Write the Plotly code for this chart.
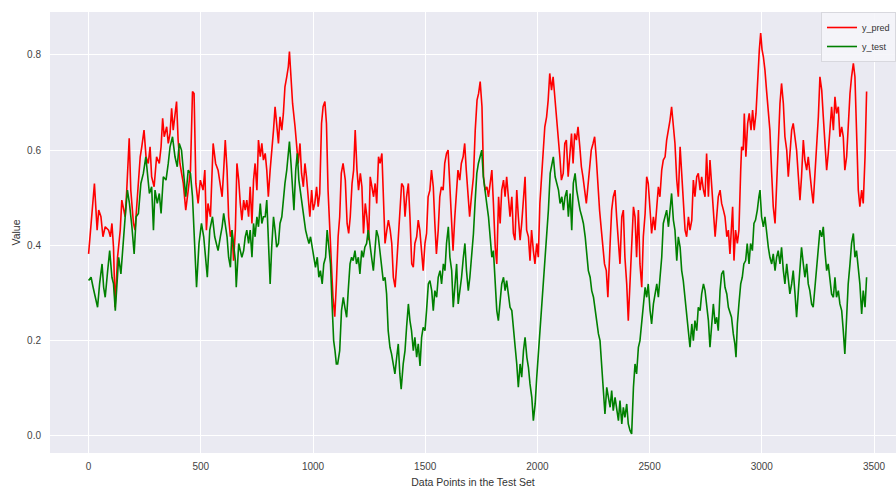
import plotly.graph_objects as go

# ---- data (index in test set, value) ----
pred_x = [0, 26, 38, 45, 55, 64, 74, 89, 97, 104, 111, 118, 129, 141, 148, 163, 170, 181, 188, 200,
          207, 218, 230, 237, 247, 256, 266, 274, 281, 292, 303, 315, 323, 330, 337, 348, 355, 363, 370, 377,
          385, 392, 399, 407, 422, 433, 444, 454, 463, 470, 478, 488, 498, 510, 518, 525, 532, 543, 555, 566,
          577, 595, 602, 609, 617, 624, 632, 639, 646, 654, 661, 669, 676, 683, 691, 698, 705, 713, 720, 728,
          735, 742, 750, 757, 765, 772, 779, 787, 794, 801, 809, 816, 824, 831, 838, 846, 853, 861, 868, 875,
          883, 890, 895, 902, 909, 920, 927, 934, 942, 949, 957, 964, 971, 979, 986, 994, 1001, 1008, 1016, 1023,
          1030, 1038, 1045, 1053, 1060, 1067, 1075, 1082, 1089, 1097, 1104, 1112, 1119, 1126, 1134,
          1144, 1152, 1159, 1166, 1174, 1181, 1188, 1196, 1203, 1211, 1218, 1225, 1233, 1240, 1248, 1255, 1262, 1270,
          1277, 1284, 1292, 1299, 1307, 1314, 1321, 1329, 1336, 1344, 1351, 1358, 1366, 1373, 1380, 1388, 1395, 1403,
          1410, 1417, 1425, 1432, 1440, 1447, 1454, 1462, 1469, 1476, 1484, 1491, 1499, 1506, 1513, 1521, 1528, 1536,
          1543, 1550, 1558, 1565, 1572, 1580, 1587, 1595, 1602, 1609, 1617, 1624, 1632, 1639, 1646, 1654, 1661, 1669,
          1676, 1683, 1691, 1698, 1706,
          1715, 1723, 1731, 1738, 1745, 1753, 1760, 1767, 1775, 1782, 1790, 1797, 1804, 1812, 1819, 1827, 1834, 1841,
          1849, 1856, 1863, 1871, 1878, 1886, 1893, 1900, 1908, 1915, 1923, 1930, 1937, 1945, 1952, 1960, 1967, 1974,
          1982, 1989, 1997, 2004, 2011, 2019, 2026, 2033, 2041, 2048, 2055, 2063, 2070, 2078, 2085, 2092, 2100, 2107,
          2115, 2122, 2129, 2137, 2144, 2152, 2159, 2166, 2174, 2181, 2189, 2196, 2203, 2211, 2218, 2225, 2233, 2240,
          2248, 2255, 2262, 2270, 2277, 2285, 2292, 2299, 2307, 2314,
          2324, 2331, 2338, 2346, 2353, 2361, 2368, 2376, 2383, 2390, 2398, 2405, 2413, 2420, 2428, 2435, 2442, 2450,
          2457, 2465, 2472, 2480, 2487, 2494, 2502, 2509, 2517, 2524, 2532, 2539, 2546, 2554, 2561, 2569, 2576, 2584,
          2591, 2598, 2606, 2613, 2621, 2628, 2636, 2643, 2650, 2658, 2665, 2673, 2680, 2688, 2695, 2702, 2710, 2717,
          2725, 2732, 2740, 2747, 2754, 2762, 2769, 2777, 2784, 2792, 2799, 2806, 2814, 2821, 2829, 2836, 2844, 2851,
          2858, 2865, 2870, 2876, 2883, 2891, 2898, 2906, 2910, 2917, 2922, 2929, 2937, 2944, 2952, 2959, 2966, 2974,
          2981, 2989, 2995, 3001, 3007, 3014, 3021, 3029, 3036, 3044, 3051, 3059, 3066, 3073, 3081, 3088, 3096, 3103,
          3111, 3118, 3125, 3133, 3140, 3148, 3155, 3163, 3170, 3177, 3185, 3192, 3200, 3207, 3214, 3222, 3229, 3237,
          3244, 3252, 3259, 3267, 3274, 3281, 3289, 3296, 3304, 3311, 3319, 3326, 3333, 3341, 3348, 3356, 3363, 3370,
          3378, 3385, 3393, 3400, 3408, 3415, 3422, 3430, 3437, 3445, 3452, 3460, 3467]
pred_y = [0.382, 0.530, 0.432, 0.474, 0.460, 0.418, 0.439, 0.432, 0.418, 0.446, 0.396, 0.270, 0.375, 0.432, 0.495, 0.460, 0.516, 0.625, 0.516, 0.446,
          0.432, 0.502, 0.586, 0.607, 0.642, 0.586, 0.572, 0.607, 0.544, 0.523, 0.586, 0.572, 0.607, 0.667, 0.628, 0.649, 0.614, 0.635, 0.688, 0.642,
          0.677, 0.702, 0.621, 0.572, 0.530, 0.474, 0.516, 0.558, 0.723, 0.719, 0.530, 0.488, 0.537, 0.516, 0.558, 0.432, 0.488, 0.460, 0.614, 0.572,
          0.558, 0.502, 0.558, 0.621, 0.558, 0.460, 0.418, 0.432, 0.368, 0.432, 0.572, 0.537, 0.488, 0.453, 0.495, 0.474, 0.495, 0.460, 0.523, 0.446,
          0.537, 0.572, 0.516, 0.621, 0.586, 0.614, 0.579, 0.593, 0.558, 0.502, 0.558, 0.593, 0.642, 0.691, 0.649, 0.614, 0.670, 0.642, 0.677, 0.733,
          0.754, 0.775, 0.807, 0.761, 0.698, 0.649, 0.600, 0.572, 0.614, 0.551, 0.523, 0.572, 0.544, 0.495, 0.460, 0.516, 0.474, 0.488, 0.523, 0.481,
          0.509, 0.656, 0.691, 0.702, 0.656, 0.516, 0.418, 0.361, 0.291, 0.250, 0.319, 0.418, 0.460, 0.551, 0.572,
          0.537, 0.446, 0.425, 0.460, 0.530, 0.558, 0.642, 0.558, 0.516, 0.551, 0.523, 0.425, 0.488, 0.460, 0.411, 0.544, 0.523, 0.502,
          0.530, 0.488, 0.586, 0.572, 0.593, 0.502, 0.404, 0.432, 0.453, 0.432, 0.404, 0.333, 0.312, 0.361, 0.418, 0.474, 0.530, 0.523,
          0.460, 0.502, 0.530, 0.460, 0.361, 0.354, 0.404, 0.418, 0.453, 0.432, 0.389, 0.347, 0.404, 0.425, 0.502, 0.516, 0.558, 0.523,
          0.446, 0.382, 0.432, 0.502, 0.523, 0.516, 0.572, 0.593, 0.600, 0.523, 0.432, 0.389, 0.460, 0.502, 0.558, 0.537, 0.572, 0.586,
          0.614, 0.558, 0.502, 0.460, 0.502,
          0.544, 0.642, 0.705, 0.719, 0.744, 0.691, 0.544, 0.516, 0.523, 0.502, 0.530, 0.558, 0.488, 0.396, 0.361, 0.502, 0.446, 0.516,
          0.537, 0.502, 0.544, 0.502, 0.460, 0.502, 0.425, 0.411, 0.516, 0.460, 0.411, 0.446, 0.502, 0.544, 0.432, 0.418, 0.368, 0.432,
          0.389, 0.361, 0.404, 0.375, 0.488, 0.544, 0.607, 0.649, 0.670, 0.705, 0.761, 0.726, 0.754, 0.712, 0.670, 0.628, 0.586, 0.537,
          0.551, 0.614, 0.621, 0.544, 0.586, 0.635, 0.572, 0.635, 0.621, 0.649, 0.607, 0.565, 0.544, 0.516, 0.488, 0.523, 0.558, 0.600,
          0.614, 0.628, 0.586, 0.516, 0.474, 0.432, 0.396, 0.361, 0.347, 0.291,
          0.404, 0.474, 0.502, 0.516, 0.460, 0.396, 0.361, 0.460, 0.474, 0.375, 0.319, 0.242, 0.319, 0.389, 0.481, 0.460, 0.375, 0.474,
          0.361, 0.312, 0.418, 0.467, 0.544, 0.530, 0.474, 0.425, 0.460, 0.432, 0.481, 0.523, 0.502, 0.558, 0.579, 0.586, 0.621, 0.642,
          0.663, 0.691, 0.656, 0.614, 0.537, 0.502, 0.607, 0.558, 0.502, 0.432, 0.418, 0.460, 0.432, 0.453, 0.537, 0.502, 0.544, 0.551,
          0.516, 0.544, 0.516, 0.502, 0.593, 0.502, 0.579, 0.516, 0.460, 0.418, 0.460, 0.502, 0.516, 0.488, 0.474, 0.460, 0.418, 0.432,
          0.382, 0.432, 0.481, 0.368, 0.432, 0.404, 0.432, 0.558, 0.607, 0.600, 0.677, 0.586, 0.656, 0.677, 0.642, 0.684, 0.642, 0.677,
          0.754, 0.811, 0.846, 0.811, 0.796, 0.768, 0.726, 0.684, 0.642, 0.551, 0.481, 0.446, 0.523, 0.614, 0.698, 0.740, 0.698, 0.628,
          0.600, 0.544, 0.593, 0.642, 0.656, 0.621, 0.600, 0.544, 0.495, 0.544, 0.621, 0.579, 0.558, 0.586, 0.544, 0.516, 0.488, 0.544,
          0.600, 0.670, 0.754, 0.726, 0.670, 0.621, 0.558, 0.593, 0.656, 0.691, 0.642, 0.712, 0.677, 0.691, 0.628, 0.649, 0.628, 0.558,
          0.586, 0.656, 0.719, 0.754, 0.782, 0.754, 0.649, 0.516, 0.481, 0.516, 0.488, 0.586, 0.723]

test_x = [0, 11, 20, 30, 40, 49, 60, 67, 74, 85, 94, 104, 111, 119, 126, 134, 144, 153, 163, 173,
          182, 193, 203, 212, 222, 233, 244, 255, 264, 271, 281, 289, 296, 306, 315, 323, 333, 345, 355, 363,
          374, 385, 395, 404, 414, 425, 433, 444, 454, 463, 473, 481, 492, 503, 513, 522, 529, 540, 552, 562, 577,
          587, 595, 602, 609, 617, 624, 632, 639, 646, 654, 658, 669, 676, 683, 691, 698, 705, 713, 720, 728,
          735, 742, 750, 757, 765, 772, 779, 787, 794, 801, 809, 816, 824, 831, 838, 846, 853, 861, 868, 875,
          883, 890, 895, 902, 909, 915, 923, 930, 937, 945, 952, 960, 967, 974, 982, 989, 996, 1004, 1011, 1019,
          1026, 1033, 1041, 1048, 1056, 1063, 1070, 1078, 1085, 1092, 1098, 1104, 1110, 1119,
          1127, 1135, 1142, 1150, 1157, 1165, 1172, 1179, 1187, 1194, 1202, 1209, 1217, 1224, 1231, 1239, 1246, 1254,
          1261, 1269, 1276, 1283, 1291, 1298, 1306, 1313, 1321, 1328, 1335, 1343, 1350, 1358, 1365, 1373, 1380, 1387,
          1393, 1402, 1410, 1417, 1425, 1432, 1439, 1447, 1454, 1462, 1469, 1477, 1484, 1491, 1499, 1506, 1514, 1521,
          1529, 1536, 1543, 1551, 1558, 1566, 1573, 1581, 1588, 1595, 1603, 1610, 1618, 1625, 1633, 1640, 1647, 1655,
          1662, 1670, 1677, 1684, 1692, 1699,
          1707, 1715, 1722, 1730, 1737, 1745, 1752, 1759, 1767, 1774, 1782, 1789, 1797, 1804, 1811, 1819, 1826, 1834,
          1841, 1849, 1856, 1863, 1871, 1878, 1886, 1893, 1901, 1908, 1915, 1923, 1930, 1938, 1945, 1953, 1960, 1967,
          1975, 1982, 1990, 1997, 2005, 2012, 2019, 2027, 2034, 2042, 2049, 2057, 2064, 2071, 2079, 2086, 2094, 2101,
          2109, 2116, 2123, 2131, 2138, 2146, 2153, 2160, 2168, 2175, 2183, 2190, 2198, 2205, 2213, 2220, 2227, 2235,
          2242, 2250, 2257, 2264, 2272, 2279,
          2286, 2294, 2301, 2309, 2316, 2324, 2331, 2338, 2346, 2353, 2361, 2368, 2376, 2383, 2390, 2398, 2405, 2413,
          2420, 2428, 2435, 2442, 2450, 2457, 2465, 2472, 2480, 2487, 2494, 2502, 2509, 2517, 2524, 2532, 2539, 2546,
          2554, 2561, 2569, 2576, 2584, 2591, 2598, 2606, 2613, 2621, 2628, 2636, 2643, 2650, 2658, 2665, 2673, 2680,
          2688, 2695, 2702, 2710, 2717, 2725, 2732, 2740, 2747, 2754, 2762, 2769, 2777, 2784, 2792, 2799, 2806, 2814,
          2821, 2829, 2836, 2844, 2851,
          2858, 2865, 2873, 2880, 2885, 2891, 2898, 2906, 2913, 2920, 2928, 2935, 2943, 2950, 2958, 2965, 2972, 2980,
          2987, 2992, 2999, 3007, 3014, 3021, 3029, 3036, 3044, 3051, 3059, 3066, 3073, 3081, 3088, 3096, 3103, 3111,
          3118, 3125, 3133, 3140, 3148, 3155, 3163, 3170, 3177, 3185, 3192, 3200, 3207, 3214, 3222, 3229, 3237, 3244,
          3252, 3259, 3267, 3274, 3281, 3289, 3296, 3304, 3311, 3319, 3326, 3333, 3341, 3348, 3356, 3363, 3370, 3378,
          3385, 3393, 3400, 3408, 3415, 3422, 3430, 3437, 3445, 3452, 3460, 3467]
test_y = [0.326, 0.333, 0.312, 0.291, 0.270, 0.319, 0.361, 0.312, 0.291, 0.347, 0.389, 0.333, 0.319, 0.263, 0.319, 0.375, 0.340, 0.404, 0.460, 0.516,
          0.488, 0.439, 0.382, 0.460, 0.467, 0.530, 0.551, 0.586, 0.544, 0.509, 0.523, 0.432, 0.516, 0.488, 0.509, 0.467, 0.544, 0.537, 0.572, 0.607,
          0.628, 0.586, 0.565, 0.614, 0.600, 0.537, 0.502, 0.558, 0.551, 0.502, 0.389, 0.312, 0.404, 0.446, 0.418, 0.361, 0.333, 0.432, 0.460, 0.418, 0.389,
          0.418, 0.439, 0.467, 0.446, 0.418, 0.375, 0.354, 0.432, 0.404, 0.368, 0.312, 0.404, 0.389, 0.375, 0.389, 0.418, 0.432, 0.404, 0.432, 0.375,
          0.446, 0.418, 0.460, 0.439, 0.488, 0.446, 0.460, 0.460, 0.495, 0.404, 0.319, 0.396, 0.460, 0.432, 0.396, 0.404, 0.446, 0.460, 0.502, 0.530,
          0.558, 0.586, 0.618, 0.572, 0.530, 0.474, 0.558, 0.593, 0.537, 0.509, 0.481, 0.453, 0.432, 0.418, 0.404, 0.418, 0.396, 0.368, 0.354, 0.375,
          0.333, 0.347, 0.319, 0.361, 0.375, 0.432, 0.404, 0.361, 0.277, 0.200, 0.179, 0.151, 0.151, 0.179,
          0.263, 0.291, 0.270, 0.249, 0.305, 0.361, 0.375, 0.368, 0.389, 0.361, 0.375, 0.340, 0.389, 0.375, 0.396, 0.404, 0.432, 0.396,
          0.375, 0.347, 0.396, 0.432, 0.418, 0.389, 0.347, 0.326, 0.333, 0.298, 0.221, 0.186, 0.172, 0.151, 0.130, 0.165, 0.193, 0.130,
          0.098, 0.151, 0.179, 0.228, 0.277, 0.242, 0.221, 0.179, 0.207, 0.165, 0.193, 0.147, 0.207, 0.228, 0.221, 0.263, 0.319, 0.326,
          0.305, 0.263, 0.305, 0.291, 0.333, 0.347, 0.319, 0.361, 0.347, 0.404, 0.439, 0.375, 0.347, 0.270, 0.326, 0.361, 0.277, 0.305,
          0.333, 0.375, 0.404, 0.347, 0.305, 0.333,
          0.375, 0.425, 0.488, 0.551, 0.572, 0.586, 0.600, 0.544, 0.509, 0.488, 0.460, 0.418, 0.375, 0.389, 0.333, 0.263, 0.242, 0.277,
          0.319, 0.333, 0.305, 0.326, 0.298, 0.270, 0.263, 0.221, 0.186, 0.151, 0.102, 0.151, 0.123, 0.179, 0.207, 0.165, 0.144, 0.109,
          0.081, 0.032, 0.067, 0.123, 0.179, 0.221, 0.263, 0.319, 0.375, 0.418, 0.474, 0.551, 0.572, 0.586, 0.544, 0.530, 0.516, 0.488,
          0.502, 0.474, 0.502, 0.516, 0.460, 0.509, 0.432, 0.530, 0.551, 0.516, 0.488, 0.474, 0.460, 0.446, 0.418, 0.375, 0.347, 0.333,
          0.305, 0.291, 0.263, 0.242, 0.214, 0.200,
          0.151, 0.095, 0.046, 0.102, 0.081, 0.060, 0.095, 0.053, 0.081, 0.060, 0.032, 0.074, 0.025, 0.060, 0.039, 0.067, 0.025, 0.011,
          0.004, 0.102, 0.151, 0.130, 0.186, 0.200, 0.235, 0.277, 0.312, 0.291, 0.319, 0.263, 0.235, 0.277, 0.298, 0.319, 0.291, 0.333,
          0.375, 0.446, 0.460, 0.474, 0.439, 0.474, 0.509, 0.453, 0.432, 0.368, 0.418, 0.396, 0.347, 0.326, 0.291, 0.249, 0.221, 0.186,
          0.235, 0.200, 0.242, 0.221, 0.270, 0.263, 0.298, 0.319, 0.305, 0.270, 0.242, 0.186, 0.242, 0.277, 0.235, 0.249, 0.221, 0.305,
          0.340, 0.347, 0.312, 0.298, 0.270,
          0.260, 0.249, 0.214, 0.193, 0.165, 0.235, 0.277, 0.319, 0.333, 0.361, 0.368, 0.404, 0.361, 0.404, 0.389, 0.446, 0.453, 0.474,
          0.502, 0.516, 0.460, 0.439, 0.460, 0.425, 0.396, 0.375, 0.361, 0.382, 0.347, 0.375, 0.389, 0.361, 0.396, 0.347, 0.319, 0.361,
          0.333, 0.298, 0.319, 0.347, 0.298, 0.249, 0.305, 0.361, 0.396, 0.361, 0.333, 0.361, 0.319, 0.305, 0.277, 0.270, 0.312, 0.361,
          0.404, 0.432, 0.418, 0.439, 0.389, 0.347, 0.361, 0.326, 0.298, 0.291, 0.333, 0.291, 0.305, 0.277, 0.263, 0.221, 0.172, 0.249,
          0.319, 0.361, 0.404, 0.425, 0.375, 0.389, 0.347, 0.319, 0.256, 0.305, 0.270, 0.333]

x_ticks = [0, 500, 1000, 1500, 2000, 2500, 3000, 3500]
y_ticks = [0.0, 0.2, 0.4, 0.6, 0.8]

FONT = "Liberation Sans, Arial, DejaVu Sans, sans-serif"

fig = go.Figure()
fig.add_trace(go.Scatter(x=pred_x, y=pred_y, mode="lines", name="y_pred",
                         line=dict(color="#ff0000", width=1.6)))
fig.add_trace(go.Scatter(x=test_x, y=test_y, mode="lines", name="y_test",
                         line=dict(color="#008000", width=1.6)))

fig.update_layout(
    width=896, height=488,
    margin=dict(l=50, r=0, t=12, b=35),
    paper_bgcolor="white",
    plot_bgcolor="#EAEAF2",
    font=dict(family=FONT, size=10, color="#444444"),
    showlegend=True,
    legend=dict(x=1.0, y=1.0, xanchor="right", yanchor="top",
                bgcolor="rgba(245,245,249,0.9)", bordercolor="#d8d8de", borderwidth=1,
                font=dict(size=9, color="#333333"), tracegroupgap=0,
                itemwidth=30),
    xaxis=dict(range=[-172, 3598], tickvals=x_ticks, ticktext=[str(v) for v in x_ticks],
               showgrid=True, gridcolor="white", gridwidth=1, zeroline=False,
               showline=False, ticks="", ticklabelstandoff=6,
               title=dict(text="Data Points in the Test Set", font=dict(size=10.5, color="#333333"),
                          standoff=7)),
    yaxis=dict(range=[-0.036, 0.890], tickvals=y_ticks, ticktext=[f"{v:.1f}" for v in y_ticks],
               showgrid=True, gridcolor="white", gridwidth=1, zeroline=False,
               showline=False, ticks="", ticklabelstandoff=8,
               title=dict(text="Value", font=dict(size=10.5, color="#333333"), standoff=4)),
)

fig.write_html("out.html")
